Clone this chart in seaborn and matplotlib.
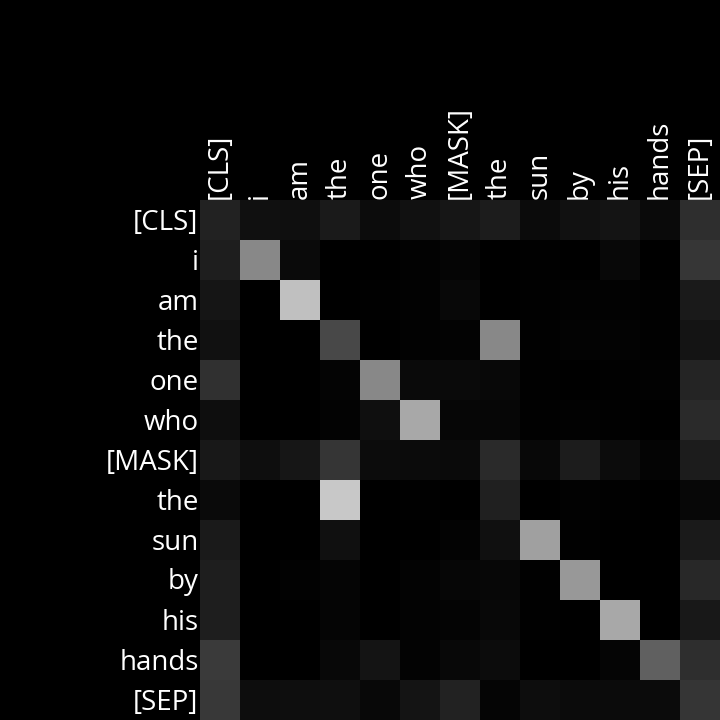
import numpy as np
import pandas as pd
import seaborn as sns
import matplotlib
matplotlib.use("Agg")
import matplotlib.pyplot as plt
import matplotlib.transforms as mtransforms

tokens = ["[CLS]", "i", "am", "the", "one", "who", "[MASK]", "the", "sun", "by", "his", "hands", "[SEP]"]

attn = [
    [0x22, 0x10, 0x0f, 0x1a, 0x0c, 0x11, 0x16, 0x1c, 0x0b, 0x11, 0x14, 0x0a, 0x2e],
    [0x1e, 0x88, 0x0a, 0x00, 0x00, 0x02, 0x05, 0x00, 0x01, 0x00, 0x08, 0x00, 0x36],
    [0x15, 0x00, 0xc0, 0x00, 0x01, 0x02, 0x08, 0x00, 0x01, 0x02, 0x02, 0x01, 0x1a],
    [0x11, 0x00, 0x00, 0x48, 0x00, 0x02, 0x03, 0x88, 0x01, 0x03, 0x03, 0x01, 0x14],
    [0x30, 0x00, 0x00, 0x04, 0x88, 0x0a, 0x0a, 0x08, 0x01, 0x00, 0x01, 0x02, 0x24],
    [0x0e, 0x00, 0x00, 0x03, 0x0f, 0xa8, 0x06, 0x06, 0x01, 0x02, 0x01, 0x00, 0x2a],
    [0x18, 0x0e, 0x16, 0x35, 0x0c, 0x0b, 0x0a, 0x2a, 0x08, 0x1c, 0x0c, 0x04, 0x1c],
    [0x0a, 0x00, 0x00, 0xc8, 0x00, 0x01, 0x00, 0x20, 0x00, 0x02, 0x01, 0x00, 0x07],
    [0x1a, 0x00, 0x00, 0x10, 0x00, 0x00, 0x03, 0x10, 0xa0, 0x01, 0x00, 0x00, 0x1a],
    [0x1e, 0x00, 0x02, 0x05, 0x00, 0x03, 0x06, 0x07, 0x01, 0x98, 0x00, 0x00, 0x28],
    [0x1e, 0x00, 0x00, 0x05, 0x00, 0x03, 0x04, 0x08, 0x01, 0x00, 0xa8, 0x00, 0x18],
    [0x3a, 0x00, 0x00, 0x08, 0x14, 0x03, 0x08, 0x0c, 0x00, 0x00, 0x05, 0x60, 0x2e],
    [0x38, 0x0d, 0x0e, 0x0f, 0x08, 0x14, 0x22, 0x05, 0x0d, 0x0b, 0x0b, 0x0b, 0x35],
]

df = pd.DataFrame(np.array(attn) / 255.0, index=tokens, columns=tokens)

plt.rcParams['font.family'] = ['Open Sans', 'DejaVu Sans']
fig = plt.figure(figsize=(7.2, 7.2), dpi=100, facecolor="black")
ax = fig.add_axes([200 / 720, 0, 520 / 720, 520 / 720])
sns.heatmap(df, cmap="gray", vmin=0, vmax=1, cbar=False, square=False, ax=ax)

ax.xaxis.tick_top()
ax.set_xticklabels(tokens, rotation=90, color="white", fontsize=20)
ax.set_yticklabels(tokens, rotation=0, color="white", fontsize=20)
ax.tick_params(length=0, pad=1)
ax.set_xlabel("")
ax.set_ylabel("")

# nudge row labels down a touch
shift = mtransforms.ScaledTranslation(0, -2.5 / 100, fig.dpi_scale_trans)
for lab in ax.get_yticklabels():
    lab.set_transform(lab.get_transform() + shift)

fig.savefig("out.png", dpi=100, facecolor="black")
